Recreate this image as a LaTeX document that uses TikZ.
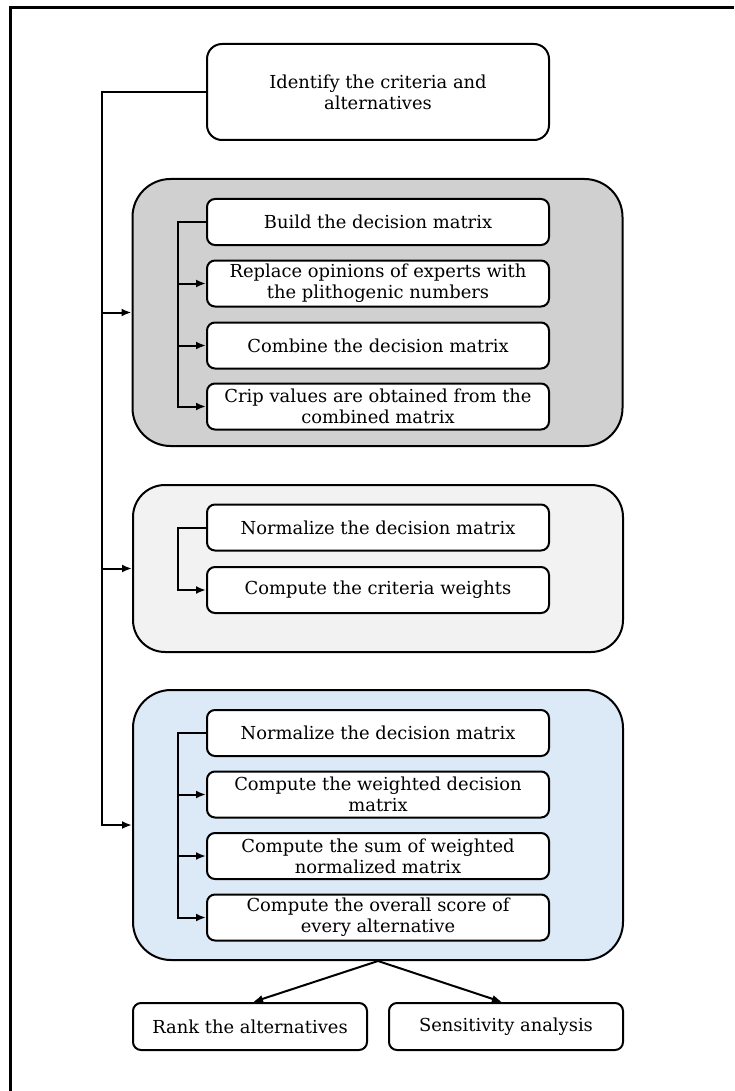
\documentclass[tikz,border=0pt]{standalone}
\usepackage{fontspec}
\setmainfont{DejaVu Serif}
\usetikzlibrary{arrows.meta}
\definecolor{gbox}{RGB}{208,208,208}
\definecolor{lbox}{RGB}{242,242,242}
\definecolor{bbox}{RGB}{220,233,246}
\begin{document}
\begin{tikzpicture}[x=1pt,y=-1pt,
  every node/.style={font=\fontsize{17.9}{21}\selectfont, align=center, inner sep=0pt},
  stepbox/.style={draw, line width=2pt, fill=white, rounded corners=8pt,
    minimum width=342pt, minimum height=46pt},
  topbox/.style={stepbox, rounded corners=15pt, minimum height=96pt},
  groupbox/.style={draw, line width=2pt, rounded corners=38pt, minimum width=490pt},
  endbox/.style={stepbox, minimum width=234pt, minimum height=47pt},
  conn/.style={line width=2pt},
  arr/.style={conn, -{Latex[length=10pt,width=8pt]}}]
\useasboundingbox (0,0) rectangle (734,1091);
% frame
\draw[line width=3pt] (10.5,1091) -- (10.5,7.5) -- (734,7.5);

\node[topbox] (top) at (378,92) {Identify the criteria and\\alternatives};

% grey group
\node[groupbox, fill=gbox, minimum height=267pt] (gray) at (377.5,312.5) {};
\node[stepbox] (g1) at (378,222) {Build the decision matrix};
\node[stepbox] (g2) at (378,283.5) {Replace opinions of experts with\\the plithogenic numbers};
\node[stepbox] (g3) at (378,345.5) {Combine the decision matrix};
\node[stepbox] (g4) at (378,406.5) {Crip values are obtained from the\\combined matrix};

% light group
\node[groupbox, fill=lbox, minimum height=167pt, rounded corners=32pt] (light) at (378,568.5) {};
\node[stepbox] (l1) at (378,527.5) {Normalize the decision matrix};
\node[stepbox] (l2) at (378,590) {Compute the criteria weights};

% blue group
\node[groupbox, fill=bbox, minimum height=270pt] (blue) at (378,825) {};
\node[stepbox] (b1) at (378,733) {Normalize the decision matrix};
\node[stepbox] (b2) at (378,794.5) {Compute the weighted decision\\matrix};
\node[stepbox] (b3) at (378,856) {Compute the sum of weighted\\normalized matrix};
\node[stepbox] (b4) at (378,917.5) {Compute the overall score of\\every alternative};

% bottom
\node[endbox] (rank) at (250,1026.5) {Rank the alternatives};
\node[endbox] (sens) at (506,1026.5) {Sensitivity analysis};

% outer trunk
\coordinate (tA) at (102,92);
\draw[arr] (top.west) -- (tA) |- (blue.west);
\draw[arr] (tA |- gray.west) -- (gray.west);
\draw[arr] (tA |- light.west) -- (light.west);

% grey inner trunk
\coordinate (gi) at (178,222);
\draw[arr] (g1.west) -- (gi) |- (g4.west);
\draw[arr] (gi |- g2.west) -- (g2.west);
\draw[arr] (gi |- g3.west) -- (g3.west);

% light inner trunk
\coordinate (li) at (178,527.5);
\draw[arr] (l1.west) -- (li) |- (l2.west);

% blue inner trunk
\coordinate (bi) at (178,733);
\draw[arr] (b1.west) -- (bi) |- (b4.west);
\draw[arr] (bi |- b2.west) -- (b2.west);
\draw[arr] (bi |- b3.west) -- (b3.west);

% outputs
\draw[arr] (blue.south) -- ([xshift=3pt]rank.north);
\draw[arr] (blue.south) -- ([xshift=-4pt]sens.north);
\end{tikzpicture}
\end{document}
